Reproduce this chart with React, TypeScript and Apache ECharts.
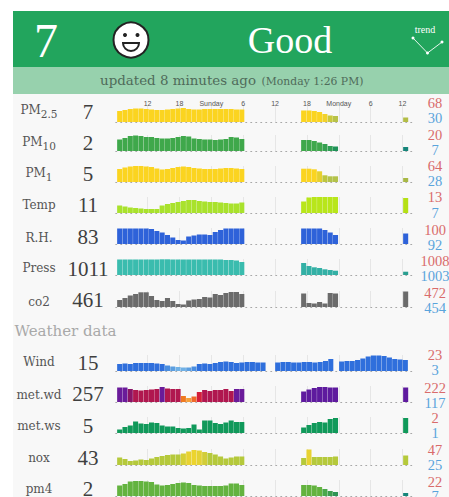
import React, { useEffect, useRef } from "react";
import * as echarts from "echarts";

// ---- Text data ----
const aqiValue = "7";
const aqiWord = "Good";
const updatedMain = "updated 8 minutes ago";
const updatedWhen = "(Monday 1:26 PM)";
const trendLabel = "trend";
const sectionLabel = "Weather data";
const tickLabels: Record<number, string> = { 12: "12", 18: "18", 24: "Sunday", 30: "6", 36: "12", 42: "18", 48: "Monday", 54: "6", 60: "12" };

const rowNames = ["PM{s|2.5}", "PM{s|10}", "PM{s|1}", "Temp", "R.H.", "Press", "co2", "Wind", "met.wd", "met.ws", "nox", "pm4"];
const rowValues = ["7", "2", "5", "11", "83", "1011", "461", "15", "257", "5", "43", "2"];
const rowMax = ["68", "20", "64", "13", "100", "1008", "472", "23", "222", "2", "47", "22"];
const rowMin = ["30", "7", "28", "7", "92", "1003", "454", "3", "117", "1", "25", "7"];
const trendValues = [3, 0.4, 2.3];

// ---- Sparkline levels, three runs of hourly bars per row ----
const pm25 = [[11, 12, 13, 13.5, 13.5, 13, 12.5, 12, 12, 12.5, 13, 13.5, 14, 13, 12.5, 12.5, 13, 13, 13, 13, 13, 13, 12.5, 12.5], [11.5, 11.5, 11, 10, 8, 6.5, 6], [4.5]];
const pm10 = [[11.5, 13, 15, 15.5, 15, 14, 14, 13, 12.5, 12.5, 13, 14, 15, 14.5, 12.5, 12, 11.5, 11.5, 11, 11.5, 12, 14, 13.5, 12], [11, 11, 10, 8.5, 7, 5, 4.5], [4]];
const pm1 = [[13, 14.5, 15.5, 16, 16, 15.5, 15, 13.5, 12.5, 13, 14, 15, 15.5, 15, 14, 13.5, 13, 13, 13, 13.5, 14, 14, 13.5, 13], [13.3, 13.3, 12.7, 10.7, 6.7, 5.7, 5.7], [4]];
const temp = [[7.5, 6.5, 5.5, 5, 4.5, 4, 4, 4, 7.5, 9, 10, 11, 12, 13, 13, 12, 11.5, 11, 11, 10.5, 10, 9.5, 9.5, 10.5], [11.5, 15.5, 16, 16, 16, 16, 16], [15]];
const rh = [[15.5, 15.5, 15.5, 15.5, 15.5, 15.5, 15, 13, 11.5, 9, 6.5, 4, 3.5, 7.5, 8.5, 9.5, 9.5, 9, 12, 14, 15.5, 15.5, 15.5, 15.5], [15.5, 15.5, 15.5, 15.5, 14, 11.5, 9], [10.5]];
const press = [[15.5, 15.5, 15.5, 15.5, 15.5, 15.5, 15.5, 15.5, 15.7, 15.7, 15.5, 15.5, 15.5, 15.5, 15.5, 15.5, 15.5, 15.5, 15.5, 15.5, 15, 15, 14.5, 13], [12, 9, 7.7, 7, 5.7, 5, 4.3], [3.3]];
const co2 = [[7, 9, 11.5, 13, 14.7, 14.7, 11, 7, 6, 9, 6, 3, 2.5, 6.5, 7.5, 8, 10, 9.5, 13, 12, 14, 15, 15, 13], [13.5, 4, 3.5, 5, 3.5, 14, 13.5], [15.5]];
const wind = [[7, 7.5, 7, 8, 8, 8, 8, 7.5, 7, 5.5, 4.5, 4, 3.5, 3.5, 4.5, 7, 7.5, 7, 8, 9, 9.5, 9, 8, 8.5, 9, 9, 8.5, 8.5], [8.5, 9, 9, 8.5, 8.5, 9, 9, 8.5, 9, 10, 12], [9.5, 10, 10, 11, 12.5, 14.5, 15.5, 15.5, 15, 13.5, 12, 11.5, 11]];
const metWd = [[14.5, 14.5, 13, 12, 11.5, 12, 12.5, 13, 15, 13.5, 13, 13, 6, 4, 5.5, 10, 12, 11, 12, 12, 13, 11, 13, 13], [10.5, 12.5, 14, 15, 15, 14.5, 14.5], [14.5]];
const metWs = [[3.5, 6, 7.5, 11.5, 9.5, 9, 10.5, 10, 7.5, 6.5, 6.5, 5, 4.5, 5, 8.5, 3.5, 12.5, 12.5, 10, 9, 10.5, 12.5, 11, 11], [5.5, 8, 10, 11, 10.5, 14, 15], [15]];
const nox = [[7.5, 6, 4, 4.5, 5.5, 5, 6.5, 8, 9, 10, 10.5, 10.5, 11.5, 13.5, 15, 14.5, 13, 12, 10.5, 8.5, 6.5, 7.5, 8.5, 8.5], [7, 15.5, 8, 8, 8, 8, 8.5], [9.5]];
const pm4 = [[10.5, 12, 14.5, 15, 15, 14.5, 14, 11.5, 10.5, 11, 12, 13, 13.5, 13, 11, 10.5, 10, 10, 10, 10, 10.5, 12.5, 12.5, 11], [11, 11, 10.5, 9, 7, 5, 4], [3]];
const rowSeries = [pm25, pm10, pm1, temp, rh, press, co2, wind, metWd, metWs, nox, pm4];

// ---- Styles ----
const baseColors = ["#fbd420", "#3fa84b", "#fbd420", "#a9e22c", "#2e62d9", "#3abcae", "#6b6b6b", "#2f6fdc", "#b0174f", "#10995a", "#b5c93b", "#63b33f"];
const tints: Record<number, string>[] = [
  { 28: "#f2d22a", 29: "#c9c93c", 30: "#b8c248", 31: "#b3bd45" },
  { 28: "#34a04f", 29: "#2f9e55", 30: "#1f9258", 31: "#16857a" },
  { 27: "#e6d02e", 28: "#bec63e", 29: "#b3c24a", 30: "#b3c24a", 31: "#a8b845" },
  { 24: "#b8e61a", 25: "#b8e61a", 26: "#b8e61a", 27: "#b8e61a", 28: "#b8e61a", 29: "#b8e61a", 30: "#b8e61a", 31: "#b5e015" },
  {},
  { 24: "#33b0a5", 25: "#33b0a5", 26: "#33b0a5", 27: "#33b0a5", 28: "#33b0a5", 29: "#33b0a5", 30: "#33b0a5", 31: "#2a9e90" },
  {},
  { 9: "#4a8ee0", 10: "#5b9ee0", 11: "#6fb0e5", 12: "#6fb0e5", 13: "#5b9ee0", 14: "#4a8ee0" },
  { 0: "#6a1b9a", 1: "#6a1b9a", 2: "#8a1466", 8: "#6a1b9a", 12: "#ef7a20", 13: "#f5a03a", 14: "#ef6a2a", 15: "#d41f3a", 22: "#6a1b9a", 23: "#6a1b9a", 24: "#5e1a9e", 25: "#5e1a9e", 26: "#5e1a9e", 27: "#5e1a9e", 28: "#5e1a9e", 29: "#5e1a9e", 30: "#5e1a9e", 31: "#5e1a9e" },
  {},
  { 12: "#d6cf35", 13: "#e8d232", 14: "#ecd42e", 15: "#e4d234", 16: "#d2cd38", 25: "#e8d232" },
  { 28: "#4aa84c", 29: "#3d9d4f", 30: "#2f9455", 31: "#16857a" },
];
const baselines = [122, 151, 182, 213, 244, 275, 307, 371, 402, 433, 465, 496];
const nameY = [110, 142, 173, 205, 238, 268, 302, 362, 395, 426, 458, 489];
const valueY = [112, 143, 174, 205, 237, 269, 300, 363, 394, 426, 458, 489];
const maxY = [103, 135, 166, 197, 229.5, 260.5, 292.5, 355, 387.5, 418, 450, 482];
const minY = [118, 150, 181, 213, 244.5, 275.5, 307.5, 370, 402.5, 433, 465, 496];

const SERIF = "Liberation Serif";
const LABEL = "DejaVu Serif";
const PX_PER_HOUR = 5.31;
const HOUR_MIN = 6;
const HOUR_MAX = 62;
const GRID_LEFT = 115.74;
const GRID_H = 16;
const GRID_W = (HOUR_MAX - HOUR_MIN) * PX_PER_HOUR;
const runStarts = [6.74, 41.39, 60.6];
const windStarts = [6.74, 36.5, 48.54];

function text(t: string, x: number, y: number, size: number, color: string, family: string, extra: any = {}) {
  return {
    type: "text", x, y, silent: true,
    style: { text: t, fill: color, font: `${size}px "${family}"`, align: "center", verticalAlign: "middle", ...extra },
  };
}

function buildOption() {
  const grids: any[] = [];
  const xAxes: any[] = [];
  const yAxes: any[] = [];
  const series: any[] = [];

  rowSeries.forEach((runs, r) => {
    const bottom = baselines[r];
    grids.push({ left: GRID_LEFT, width: GRID_W, top: bottom - GRID_H, height: GRID_H });
    xAxes.push({
      gridIndex: r, type: "value", min: HOUR_MIN, max: HOUR_MAX, interval: 6,
      axisLine: { show: true, onZero: false, lineStyle: { color: "#a8a8a8", type: [1, 4], width: 1 } },
      axisTick: { show: false }, axisLabel: { show: false },
      splitLine: { show: true, showMinLine: false, showMaxLine: false, lineStyle: { color: "#e6e6e6", width: 1 } },
    });
    yAxes.push({ gridIndex: r, type: "value", min: 0, max: GRID_H, show: false, splitLine: { show: false } });
    const starts = r === 7 ? windStarts : runStarts;
    const data: any[] = [];
    let idx = 0;
    runs.forEach((run, k) => {
      run.forEach((v, i) => {
        const color = tints[r][idx] ?? baseColors[r];
        data.push({ value: [starts[k] + i, v], itemStyle: { color } });
        idx++;
      });
    });
    series.push({ type: "bar", xAxisIndex: r, yAxisIndex: r, data, barWidth: 5.05, silent: true });
  });

  // Time labels above the first row
  const n = rowSeries.length;
  grids.push({ left: GRID_LEFT, width: GRID_W, top: 107, height: 1 });
  xAxes.push({
    gridIndex: n, type: "value", position: "top", min: HOUR_MIN, max: HOUR_MAX, interval: 6,
    axisLine: { show: false }, axisTick: { show: false }, splitLine: { show: false },
    axisLabel: {
      show: true, margin: 0, fontSize: 7, color: "#555555", fontFamily: "Liberation Sans",
      showMinLabel: false, showMaxLabel: false,
      formatter: (v: number) => tickLabels[v] ?? "",
    },
  });
  yAxes.push({ gridIndex: n, type: "value", min: 0, max: 1, show: false });
  series.push({ type: "line", xAxisIndex: n, yAxisIndex: n, data: [], silent: true });

  // Trend sparkline in the header
  const t = n + 1;
  grids.push({ left: 413, width: 29, top: 38, height: 15 });
  xAxes.push({ gridIndex: t, type: "category", data: ["a", "b", "c"], boundaryGap: false, show: false });
  yAxes.push({ gridIndex: t, type: "value", min: 0.4, max: 3, show: false });
  series.push({
    type: "line", xAxisIndex: t, yAxisIndex: t, data: trendValues, silent: true,
    lineStyle: { color: "#e8f6ee", width: 1 }, symbol: "circle", symbolSize: 3,
    itemStyle: { color: "#ffffff" },
  });

  const elements: any[] = [
    { type: "rect", z: -10, silent: true, shape: { x: 13, y: 11, width: 436, height: 486 }, style: { fill: "#f8f8f8" } },
    { type: "rect", z: -9, silent: true, shape: { x: 13, y: 11, width: 436, height: 56 }, style: { fill: "#22a55d" } },
    { type: "rect", z: -9, silent: true, shape: { x: 13, y: 67, width: 436, height: 27 }, style: { fill: "#97d1ad" } },
    text(aqiValue, 46, 40, 48, "#ffffff", SERIF),
    text(aqiWord, 290, 40, 38, "#ffffff", SERIF),
    text(trendLabel, 425, 29, 10, "#ffffff", SERIF),
    { type: "circle", silent: true, shape: { cx: 131, cy: 40, r: 17.5 }, style: { fill: "#ffffff", stroke: "#222222", lineWidth: 2 } },
    { type: "circle", silent: true, shape: { cx: 125, cy: 35, r: 2 }, style: { fill: "#222222" } },
    { type: "circle", silent: true, shape: { cx: 137.5, cy: 35, r: 2 }, style: { fill: "#222222" } },
    { type: "sector", silent: true, shape: { cx: 131, cy: 43, r: 8, r0: 0, startAngle: 0, endAngle: Math.PI, clockwise: true }, style: { fill: "#ffffff", stroke: "#222222", lineWidth: 2 } },
    text(updatedMain, 178, 80.5, 13.4, "#4f6b5a", LABEL),
    text(updatedWhen, 312.5, 81, 10.8, "#4f6b5a", LABEL),
    text(sectionLabel, 65.5, 331, 15, "#a9a9a9", LABEL),
  ];
  rowNames.forEach((name, i) => {
    elements.push(text(name, 39, nameY[i], 12, "#555555", LABEL, {
      rich: { s: { fontSize: 10.5, fontFamily: LABEL, fill: "#555555", color: "#555555", padding: [7, 0, 0, 0] } },
    }));
    elements.push(text(rowValues[i], 88, valueY[i], 21, "#3f3f3f", SERIF));
    elements.push(text(rowMax[i], 435, maxY[i], 14.5, "#d96b6b", SERIF));
    elements.push(text(rowMin[i], 435, minY[i], 14.5, "#5aa4dc", SERIF));
  });

  return { animation: false, backgroundColor: "#ffffff", grid: grids, xAxis: xAxes, yAxis: yAxes, series, graphic: { elements } };
}

export default function App() {
  const ref = useRef<HTMLDivElement>(null);
  useEffect(() => {
    document.body.style.margin = "0";
    const chart = echarts.init(ref.current!, undefined, { renderer: "svg" });
    chart.setOption(buildOption() as any);
    return () => chart.dispose();
  }, []);
  return <div ref={ref} style={{ width: 449, height: 497 }} />;
}
